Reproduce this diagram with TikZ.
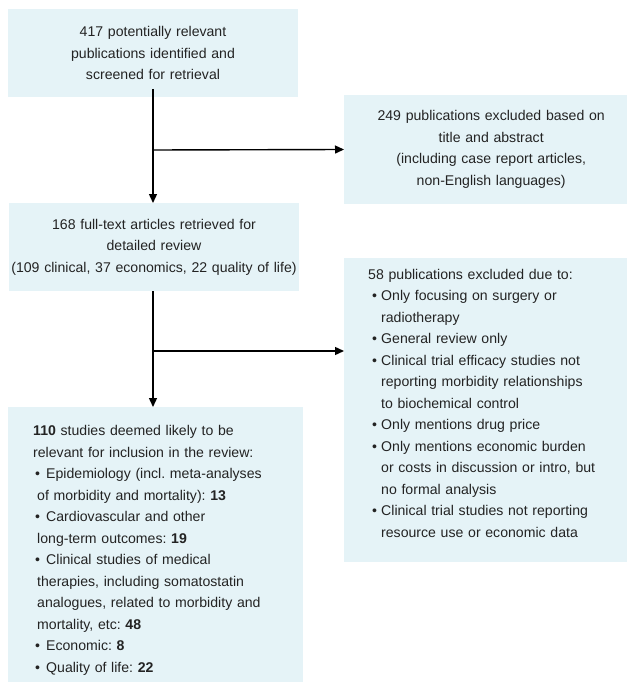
\documentclass[tikz,border=0pt]{standalone}
\usepackage{fontspec}
\setmainfont{Liberation Sans}
\usetikzlibrary{arrows.meta}

\definecolor{boxfill}{RGB}{229,243,247}
\definecolor{boxtext}{RGB}{35,35,35}
\newcommand{\bul}{\makebox[13pt][l]{\hspace{4pt}\textbullet}}
\newcommand{\bulb}{\makebox[13pt][l]{\hspace{2pt}\textbullet}}
\frenchspacing

\begin{document}
\begin{tikzpicture}[x=1pt,y=-1pt]
    \tikzstyle{box} = [fill=boxfill, text=boxtext, inner sep=0pt,
        font=\fontsize{14.1}{21.5}\selectfont]
    \tikzstyle{arr} = [line width=1.4pt, -{Triangle[length=9pt,width=8pt]}]
    \useasboundingbox (0,0) rectangle (626,682);

    \node[box, align=center, text width=290pt, minimum height=88pt] (found) at (153,53)
        {417 potentially relevant\\ publications identified and\\ screened for retrieval};
    \node[box, align=center, text width=294pt, minimum height=109pt, anchor=west] (excla) at (344,149.5)
        {249 publications excluded based on\\ title and abstract\\ (including case report articles,\\ non-English languages)};
    \node[box, align=center, text width=290pt, minimum height=88pt] (full) at (154,247)
        {168 full-text articles retrieved for\\ detailed review\\ (109 clinical, 37 economics, 22 quality of life)};
    \node[box, align=left, text width=270pt, inner xsep=24pt, minimum height=304pt, anchor=north west] (exclb) at (344,258)
        {58 publications excluded due to:\\
        \bul Only focusing on surgery or\\
        \hspace*{13pt}radiotherapy\\
        \bul General review only\\
        \bul Clinical trial efficacy studies not\\
        \hspace*{13pt}reporting morbidity relationships\\
        \hspace*{13pt}to biochemical control\\
        \bul Only mentions drug price\\
        \bul Only mentions economic burden\\
        \hspace*{13pt}or costs in discussion or intro, but\\
        \hspace*{13pt}no formal analysis\\
        \bul Clinical trial studies not reporting\\
        \hspace*{13pt}resource use or economic data\rule[-14pt]{0pt}{0pt}};
    \node[box, align=left, text width=245pt, inner xsep=25pt, minimum height=275pt, anchor=north west] (incl) at (8,407)
        {\rule{0pt}{22pt}\textbf{110} studies deemed likely to be\\
        relevant for inclusion in the review:\\
        \bulb Epidemiology (incl. meta-analyses\\
        \hspace*{4pt}of morbidity and mortality): \textbf{13}\\
        \bulb Cardiovascular and other\\
        \hspace*{4pt}long-term outcomes: \textbf{19}\\
        \bulb Clinical studies of medical\\
        \hspace*{4pt}therapies, including somatostatin\\
        \hspace*{4pt}analogues, related to morbidity and\\
        \hspace*{4pt}mortality, etc: \textbf{48}\\
        \bulb Economic: \textbf{8}\\
        \bulb Quality of life: \textbf{22}};

    \coordinate (top) at (153,89);
    \draw[arr] (top) -- (153,203) coordinate (fulltop);
    \draw[arr] (153,150) coordinate (splita) -- (excla.west);
    \draw[arr] (153,291) -- (incl.north -| top);
    \draw[arr] (153,351) coordinate (splitb) -- (splitb -| exclb.west);
\end{tikzpicture}
\end{document}
